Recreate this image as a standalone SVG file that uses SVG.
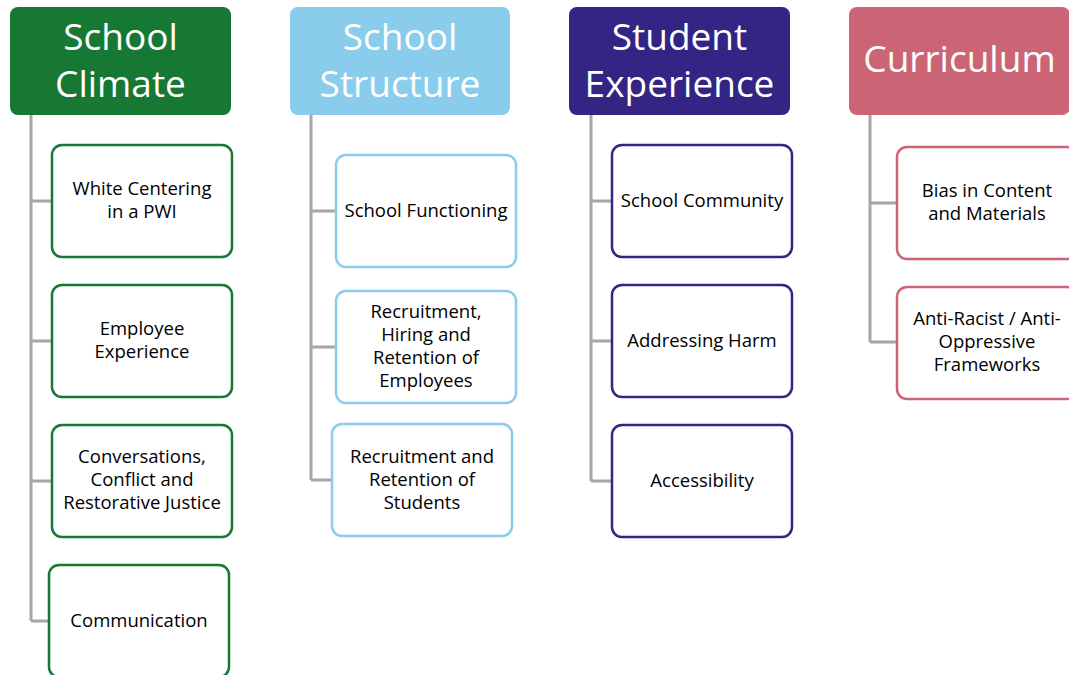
<svg xmlns="http://www.w3.org/2000/svg" width="1069" height="675" viewBox="0 0 1069 675">
  <style>
    .hdr { stroke: none; }
    .hdr-text { font-family: "Open Sans", "Noto Sans", sans-serif; font-size: 37px; fill: #ffffff; text-anchor: middle; }
    .item { fill: #ffffff; stroke-width: 2.5; }
    .item-text { font-family: "Open Sans", "Noto Sans", sans-serif; font-size: 18.5px; fill: #000000; text-anchor: middle; }
    .green { stroke: #167833; }
    .blue { stroke: #89CCEC; }
    .purple { stroke: #342483; }
    .pink { stroke: #CB6575; }
    .conn { stroke: #A6A6A6; stroke-width: 3; fill: none; }
  </style>

  <rect width="1069" height="675" fill="#ffffff"/>

  <!-- tree connectors -->
  <g id="connectors">
    <path class="conn" d="M31,115 V621 M31,201 H52 M31,341 H52 M31,481 H52 M31,621 H49"/>
    <path class="conn" d="M311,115 V480 M311,211 H336 M311,347 H336 M311,480 H332"/>
    <path class="conn" d="M591,115 V481 M591,201 H612 M591,341 H612 M591,481 H612"/>
    <path class="conn" d="M870,115 V342 M870,203 H897 M870,342 H897"/>
  </g>

  <!-- School Climate -->
  <g id="school-climate">
    <rect class="hdr" x="10" y="7" width="221" height="108" rx="8" fill="#167833"/>
    <text class="hdr-text" x="120.5" y="50">School</text>
    <text class="hdr-text" x="120.5" y="97">Climate</text>
  </g>
  <g id="white-centering">
    <rect class="item green" x="52" y="145" width="180" height="112" rx="10"/>
    <text class="item-text" x="142" y="195">White Centering</text>
    <text class="item-text" x="142" y="218">in a PWI</text>
  </g>
  <g id="employee-experience">
    <rect class="item green" x="52" y="285" width="180" height="112" rx="10"/>
    <text class="item-text" x="142" y="335">Employee</text>
    <text class="item-text" x="142" y="358">Experience</text>
  </g>
  <g id="conversations">
    <rect class="item green" x="52" y="425" width="180" height="112" rx="10"/>
    <text class="item-text" x="142" y="463">Conversations,</text>
    <text class="item-text" x="142" y="486">Conflict and</text>
    <text class="item-text" x="142" y="509">Restorative Justice</text>
  </g>
  <g id="communication">
    <rect class="item green" x="49" y="565" width="180" height="112" rx="10"/>
    <text class="item-text" x="139" y="627">Communication</text>
  </g>

  <!-- School Structure -->
  <g id="school-structure">
    <rect class="hdr" x="290" y="7" width="220" height="108" rx="8" fill="#89CCEC"/>
    <text class="hdr-text" x="400" y="50">School</text>
    <text class="hdr-text" x="400" y="97">Structure</text>
  </g>
  <g id="school-functioning">
    <rect class="item blue" x="336" y="155" width="180" height="112" rx="10"/>
    <text class="item-text" x="426" y="217">School Functioning</text>
  </g>
  <g id="recruitment-employees">
    <rect class="item blue" x="336" y="291" width="180" height="112" rx="10"/>
    <text class="item-text" x="426" y="318">Recruitment,</text>
    <text class="item-text" x="426" y="341">Hiring and</text>
    <text class="item-text" x="426" y="364">Retention of</text>
    <text class="item-text" x="426" y="387">Employees</text>
  </g>
  <g id="recruitment-students">
    <rect class="item blue" x="332" y="424" width="180" height="112" rx="10"/>
    <text class="item-text" x="422" y="463">Recruitment and</text>
    <text class="item-text" x="422" y="486">Retention of</text>
    <text class="item-text" x="422" y="509">Students</text>
  </g>

  <!-- Student Experience -->
  <g id="student-experience">
    <rect class="hdr" x="569" y="7" width="221" height="108" rx="8" fill="#342483"/>
    <text class="hdr-text" x="679.5" y="50">Student</text>
    <text class="hdr-text" x="679.5" y="97">Experience</text>
  </g>
  <g id="school-community">
    <rect class="item purple" x="612" y="145" width="180" height="112" rx="10"/>
    <text class="item-text" x="702" y="207">School Community</text>
  </g>
  <g id="addressing-harm">
    <rect class="item purple" x="612" y="285" width="180" height="112" rx="10"/>
    <text class="item-text" x="702" y="347">Addressing Harm</text>
  </g>
  <g id="accessibility">
    <rect class="item purple" x="612" y="425" width="180" height="112" rx="10"/>
    <text class="item-text" x="702" y="487">Accessibility</text>
  </g>

  <!-- Curriculum -->
  <g id="curriculum">
    <rect class="hdr" x="849" y="7" width="221" height="108" rx="8" fill="#CB6575"/>
    <text class="hdr-text" x="959.5" y="72">Curriculum</text>
  </g>
  <g id="bias-content">
    <rect class="item pink" x="897" y="147" width="180" height="112" rx="10"/>
    <text class="item-text" x="987" y="197">Bias in Content</text>
    <text class="item-text" x="987" y="220">and Materials</text>
  </g>
  <g id="anti-racist">
    <rect class="item pink" x="897" y="287" width="180" height="112" rx="10"/>
    <text class="item-text" x="987" y="325">Anti-Racist / Anti-</text>
    <text class="item-text" x="987" y="348">Oppressive</text>
    <text class="item-text" x="987" y="371">Frameworks</text>
  </g>
</svg>
